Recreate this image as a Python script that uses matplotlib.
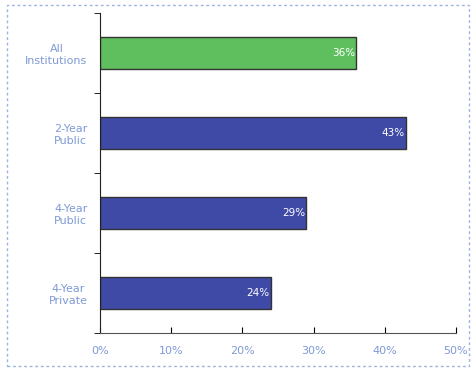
import matplotlib.pyplot as plt
from matplotlib.patches import Rectangle

categories = ['All\nInstitutions', '2-Year\nPublic', '4-Year\nPublic', '4-Year\nPrivate']
values = [36, 43, 29, 24]
colors = ['#5fbf5f', '#3f4aa6', '#3f4aa6', '#3f4aa6']
xticks = [0, 10, 20, 30, 40, 50]

label_color = '#7f9ad6'

fig = plt.figure(figsize=(4.75, 3.71), dpi=100)
ax = fig.add_axes([100 / 475, 38 / 371, 356 / 475, 320 / 371])

pos = list(range(len(categories)))
ax.barh(pos, values, height=0.4, color=colors, edgecolor='#333333', linewidth=1)
for p, v in zip(pos, values):
    ax.text(v - 0.2, p, f'{v}%', ha='right', va='center', color='white', fontsize=7.5)

ax.set_ylim(3.5, -0.5)
ax.set_xlim(0, 50)
ax.set_yticks(pos)
ax.set_yticklabels(categories, color=label_color, fontsize=8, multialignment='center')
ax.set_yticks([-0.5, 0.5, 1.5, 2.5, 3.5], minor=True)
ax.tick_params(axis='y', which='major', length=0, pad=9)
ax.tick_params(axis='y', which='minor', length=4, direction='out')
ax.set_xticks(xticks)
ax.set_xticklabels([f'{t}%' for t in xticks], color=label_color, fontsize=8)
ax.tick_params(axis='x', length=4, direction='in', pad=9)

for s in ['top', 'right']:
    ax.spines[s].set_visible(False)
ax.spines['left'].set_color('#222222')
ax.spines['bottom'].set_color('#555555')

# dashed frame around the whole chart
fig.patches.append(Rectangle((7 / 475, 5 / 371), 462 / 475, 361 / 371, transform=fig.transFigure,
                             fill=False, edgecolor='#9db3e0', linestyle=(0, (2, 2)), linewidth=1))

fig.savefig('out.png', dpi=100)
